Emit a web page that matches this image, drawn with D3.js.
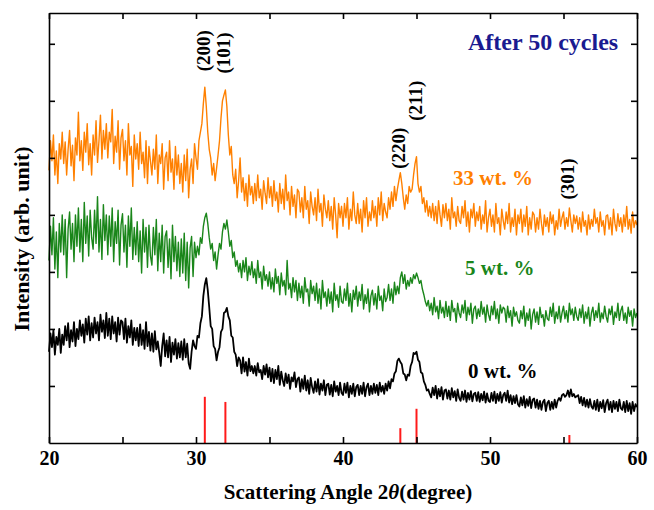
<!DOCTYPE html>
<html>
<head>
<meta charset="utf-8">
<script src="https://d3js.org/d3.v7.min.js"></script>
<style>
body { margin:0; background:#fff; }
svg text { font-family:"Liberation Serif","Times New Roman",serif; font-weight:bold; }
</style>
</head>
<body>
<div id="xrd"><svg></svg></div>
<script>
// scan grid: 20 to 60 deg, 0.1 deg step
var angleStart = 20
var angleStep = 0.1

// 33 wt. % (orange)
var counts33 = [
478,530,495,540,470,512,455,525,498,545,
490,528,470,515,548,486,522,460,535,505,
580,495,530,478,545,510,560,488,525,470,
540,505,565,492,530,575,498,548,515,560,
500,545,528,585,490,538,510,565,480,535,
550,495,530,470,560,505,520,450,540,498,
525,480,545,490,510,465,530,455,520,495,
470,515,480,540,455,505,490,525,445,500,
510,460,530,475,498,445,520,470,505,455,
490,440,505,460,515,430,480,498,455,525,
500,480,530,545,560,595,624,590,545,515,
500,470,490,460,482,505,530,570,600,610,
619,590,540,505,520,470,455,480,430,460,
500,440,465,425,455,415,470,435,450,420,
455,425,470,430,445,410,460,438,420,465,
430,450,415,460,425,440,405,455,420,445,
410,470,425,440,400,450,415,435,395,445,
440,405,430,395,450,410,425,385,440,415,
400,430,390,445,405,420,380,435,410,395,
425,390,415,375,430,400,360,420,395,415,
380,420,395,430,375,410,390,440,400,385,
420,385,410,370,425,395,430,380,405,390,
425,395,415,380,430,400,440,390,420,405,
395,430,410,440,415,450,425,445,460,474,
455,430,410,435,420,450,440,445,470,490,
502,455,440,450,420,430,405,425,398,415,
395,420,390,415,385,425,400,380,418,395,
420,390,410,375,430,395,405,380,415,390,
385,415,395,425,380,405,370,410,395,420,
380,405,390,415,375,400,385,425,370,395,
410,380,400,370,420,385,395,365,410,390,
375,405,385,420,370,395,380,410,365,400,
385,410,370,400,380,415,365,395,375,405,
400,370,395,375,410,385,365,400,380,395,
370,405,385,400,365,390,375,410,380,395,
405,375,395,380,412,390,370,400,385,398,
375,395,370,405,380,390,365,400,375,392,
380,410,385,395,370,405,380,390,365,398,
400,375,395,365,410,385,372,402,380,395,
370,400,380,415,375,392,368,405,378,390,
382]

// 5 wt. % (green)
var counts5 = [
320,380,330,395,305,370,290,385,335,400,
330,392,290,375,405,340,385,318,400,345,
412,335,392,318,422,350,398,328,408,360,
340,408,350,432,335,392,322,418,355,400,
330,398,345,412,318,388,350,408,312,382,
402,335,382,308,398,345,412,322,378,330,
388,318,372,298,392,335,378,308,382,328,
312,378,330,392,302,368,318,382,298,362,
372,308,358,288,382,318,362,302,352,292,
358,298,368,285,352,272,342,362,292,352,
325,345,330,360,350,380,395,403,385,360,
340,350,320,335,305,330,350,340,370,385,
375,391,370,345,355,325,335,310,320,300,
315,290,320,300,325,285,310,295,318,290,
305,280,320,290,300,270,310,285,295,275,
300,270,290,265,305,280,292,260,298,275,
285,260,320,270,280,255,290,265,285,250,
280,255,275,245,290,265,270,240,285,262,
275,250,280,245,270,235,285,255,265,240,
270,245,265,230,280,250,260,238,275,248,
245,270,250,280,240,262,230,268,252,275,
240,265,250,278,235,260,245,270,230,258,
268,242,262,235,275,250,258,232,270,248,
255,278,250,270,245,282,260,275,262,290,
300,280,295,270,285,275,290,280,295,288,
298,290,280,285,270,260,248,240,250,232,
245,225,255,230,240,218,250,228,238,220,
248,222,240,215,250,230,236,212,245,228,
220,242,228,250,215,238,225,245,210,235,
240,218,235,222,248,226,238,212,242,225,
215,240,225,248,218,235,210,242,228,238,
235,212,240,220,232,205,238,222,230,215,
210,232,218,240,205,228,215,235,200,225,
235,212,230,208,238,220,225,205,232,218,
215,238,222,245,210,230,218,240,212,228,
240,218,232,212,245,225,235,215,238,222,
215,235,220,242,210,230,218,238,205,228,
238,215,232,220,245,212,228,218,240,222,
212,235,225,240,208,230,220,245,215,232,
240,215,228,210,238,222,232,205,235,220,
228]

// 0 wt. % (black)
var counts0 = [
160,192,168,198,155,186,172,200,158,190,
172,205,180,210,168,198,178,212,170,200,
182,215,188,208,176,218,190,222,180,210,
185,220,192,212,180,225,195,215,184,228,
188,218,182,222,192,212,178,220,190,215,
212,182,218,176,205,185,215,172,202,180,
202,170,208,172,198,165,212,170,195,162,
192,160,196,164,178,158,135,170,192,152,
180,150,186,142,176,155,182,148,175,150,
178,146,182,150,174,140,130,160,180,170,
165,188,185,210,222,258,278,289,268,238,
205,200,170,165,145,160,168,195,200,228,
230,237,222,215,188,185,160,155,135,150,
145,122,150,125,142,118,148,126,135,122,
135,118,140,124,128,112,135,120,138,115,
132,108,130,105,128,112,135,102,125,110,
100,122,105,120,95,115,108,124,98,112,
115,90,112,95,118,92,110,86,114,98,
88,108,90,112,85,104,92,110,84,102,
104,85,102,82,108,90,100,84,106,88,
84,104,88,106,80,100,86,104,82,98,
102,84,100,86,106,82,98,104,84,100,
86,104,88,102,84,106,90,100,86,104,
92,108,96,112,108,122,126,144,148,142,
138,122,120,110,120,118,135,142,158,156,
160,146,142,124,122,108,102,92,94,86,
80,97,84,100,78,95,82,98,76,92,
94,78,92,76,96,80,91,74,94,79,
74,90,76,92,72,88,76,91,73,86,
88,74,89,72,86,75,90,71,87,74,
72,88,74,90,70,86,74,89,71,84,
88,74,92,71,84,68,82,70,84,68,
64,80,66,82,62,77,65,81,61,76,
78,62,76,60,74,58,72,76,56,70,
74,58,72,60,76,62,74,79,74,84,
86,81,84,92,81,94,82,86,80,82,
84,70,81,66,79,64,76,62,77,64,
60,74,58,76,56,72,61,75,54,70,
76,58,72,54,74,60,72,56,76,61,
58,72,54,74,56,70,51,72,56,68,
63]

var sampleNames = ["33 wt. %","5 wt. %","0 wt. %"]
var sampleColors = ["#ff8000","#1a861a","#000000"]

// reference card sticks
var refAngles = [30.6,32.0,43.9,45.0,55.4]
var refHeights = [81,72,26,60,14]

var hklLabels = ["(200)","(101)","(220)","(211)","(301)"]
var hklAngles = [30.6,32.0,43.9,45.0,55.4]

var xTickValues = [20,25,30,35,40,45,50,55,60]
var yTickValues = [100,200,300,400,500,600,700]

var makeTranslateString = function(x,y)
{
    return "translate("+x+","+y+")";
}

var screen = {width:654,height:510}
var margins = {left:49,right:17,top:13,bottom:67}
var graph =
    {
        width:screen.width-margins.left-margins.right,
        height:screen.height-margins.top-margins.bottom
    }

var svg = d3.select("#xrd svg")
    .attr("width",screen.width)
    .attr("height",screen.height)

var xScale = d3.scaleLinear()
    .domain([20,60])
    .range([0,graph.width])

var yScale = d3.scaleLinear()
    .domain([0,754])
    .range([graph.height,0])

var target = svg.append("g")
    .attr("transform",makeTranslateString(margins.left,margins.top))

var drawPatterns = function()
{
    var line = d3.line()
        .x(function(d,i){ return xScale(angleStart+i*angleStep) })
        .y(function(d){ return yScale(d) })

    var series = [counts33,counts5,counts0]
    target.selectAll("path.pattern")
    .data(series)
    .enter()
    .append("path")
    .attr("class","pattern")
    .attr("d",line)
    .attr("fill","none")
    .attr("stroke",function(d,i){ return sampleColors[i] })
    .attr("stroke-width",function(d,i){ return i==2 ? 1.8 : 1.4 })
    .attr("stroke-linejoin","round")

    target.selectAll("line.stick")
    .data(refAngles)
    .enter()
    .append("line")
    .attr("class","stick")
    .attr("x1",function(d){ return xScale(d) })
    .attr("x2",function(d){ return xScale(d) })
    .attr("y1",yScale(0))
    .attr("y2",function(d,i){ return yScale(refHeights[i]) })
    .attr("stroke","#ff1a1a")
    .attr("stroke-width",2)
}

var drawAxes = function()
{
    var fmt = function(d){ return d%10==0 ? d : "" }

    var xAxis = d3.axisBottom(xScale).tickValues(xTickValues)
        .tickSizeInner(-6).tickSizeOuter(0).tickPadding(8).tickFormat(fmt)
    var xTop = d3.axisTop(xScale).tickValues(xTickValues)
        .tickSizeInner(-6).tickSizeOuter(0).tickFormat("")
    var yAxis = d3.axisLeft(yScale).tickValues(yTickValues)
        .tickSizeInner(-6).tickSizeOuter(0).tickFormat("")
    var yRight = d3.axisRight(yScale).tickValues(yTickValues)
        .tickSizeInner(-6).tickSizeOuter(0).tickFormat("")

    target.append("g").attr("class","axis")
    .attr("transform",makeTranslateString(0,graph.height)).call(xAxis)
    target.append("g").attr("class","axis").call(xTop)
    target.append("g").attr("class","axis").call(yAxis)
    target.append("g").attr("class","axis")
    .attr("transform",makeTranslateString(graph.width,0)).call(yRight)

    target.selectAll(".axis path, .axis line")
    .attr("stroke","#000")
    .attr("stroke-width",1.6)
    target.selectAll(".axis text")
    .attr("font-size",20)
    .attr("font-family","Liberation Serif, Times New Roman, serif")
    .attr("font-weight","bold")
    .attr("fill","#000")
}

var drawLabels = function()
{
    var xLabel = svg.append("text")
    .attr("text-anchor","middle")
    .attr("x",348)
    .attr("y",499)
    .attr("font-size",21)
    xLabel.append("tspan").text("Scattering Angle 2")
    xLabel.append("tspan").text("\u03B8").attr("font-style","italic")
    xLabel.append("tspan").text("(degree)")

    svg.append("text")
    .text("Intensity (arb. unit)")
    .attr("text-anchor","middle")
    .attr("font-size",22)
    .attr("transform",makeTranslateString(29,239)+" rotate(-90)")

    svg.append("text")
    .text("After 50 cycles")
    .attr("x",468)
    .attr("y",50)
    .attr("font-size",24)
    .attr("fill","#1a1a90")

    var sampleX = [453,465,468]
    var sampleY = [185,275,378]
    svg.selectAll("text.sample")
    .data(sampleNames)
    .enter()
    .append("text")
    .attr("class","sample")
    .text(function(d){ return d })
    .attr("x",function(d,i){ return sampleX[i] })
    .attr("y",function(d,i){ return sampleY[i] })
    .attr("font-size",21)
    .attr("fill",function(d,i){ return sampleColors[i] })

    // label heights in intensity units, placed over each reflection
    var hklY = [688,684,517,600,463]
    target.selectAll("text.hkl")
    .data(hklLabels)
    .enter()
    .append("text")
    .attr("class","hkl")
    .text(function(d){ return d })
    .attr("text-anchor","middle")
    .attr("font-size",19)
    .attr("transform",function(d,i)
    {
        return makeTranslateString(xScale(hklAngles[i])+5,yScale(hklY[i]))+" rotate(-90)"
    })
}

drawPatterns()
drawAxes()
drawLabels()
</script>
</body>
</html>
